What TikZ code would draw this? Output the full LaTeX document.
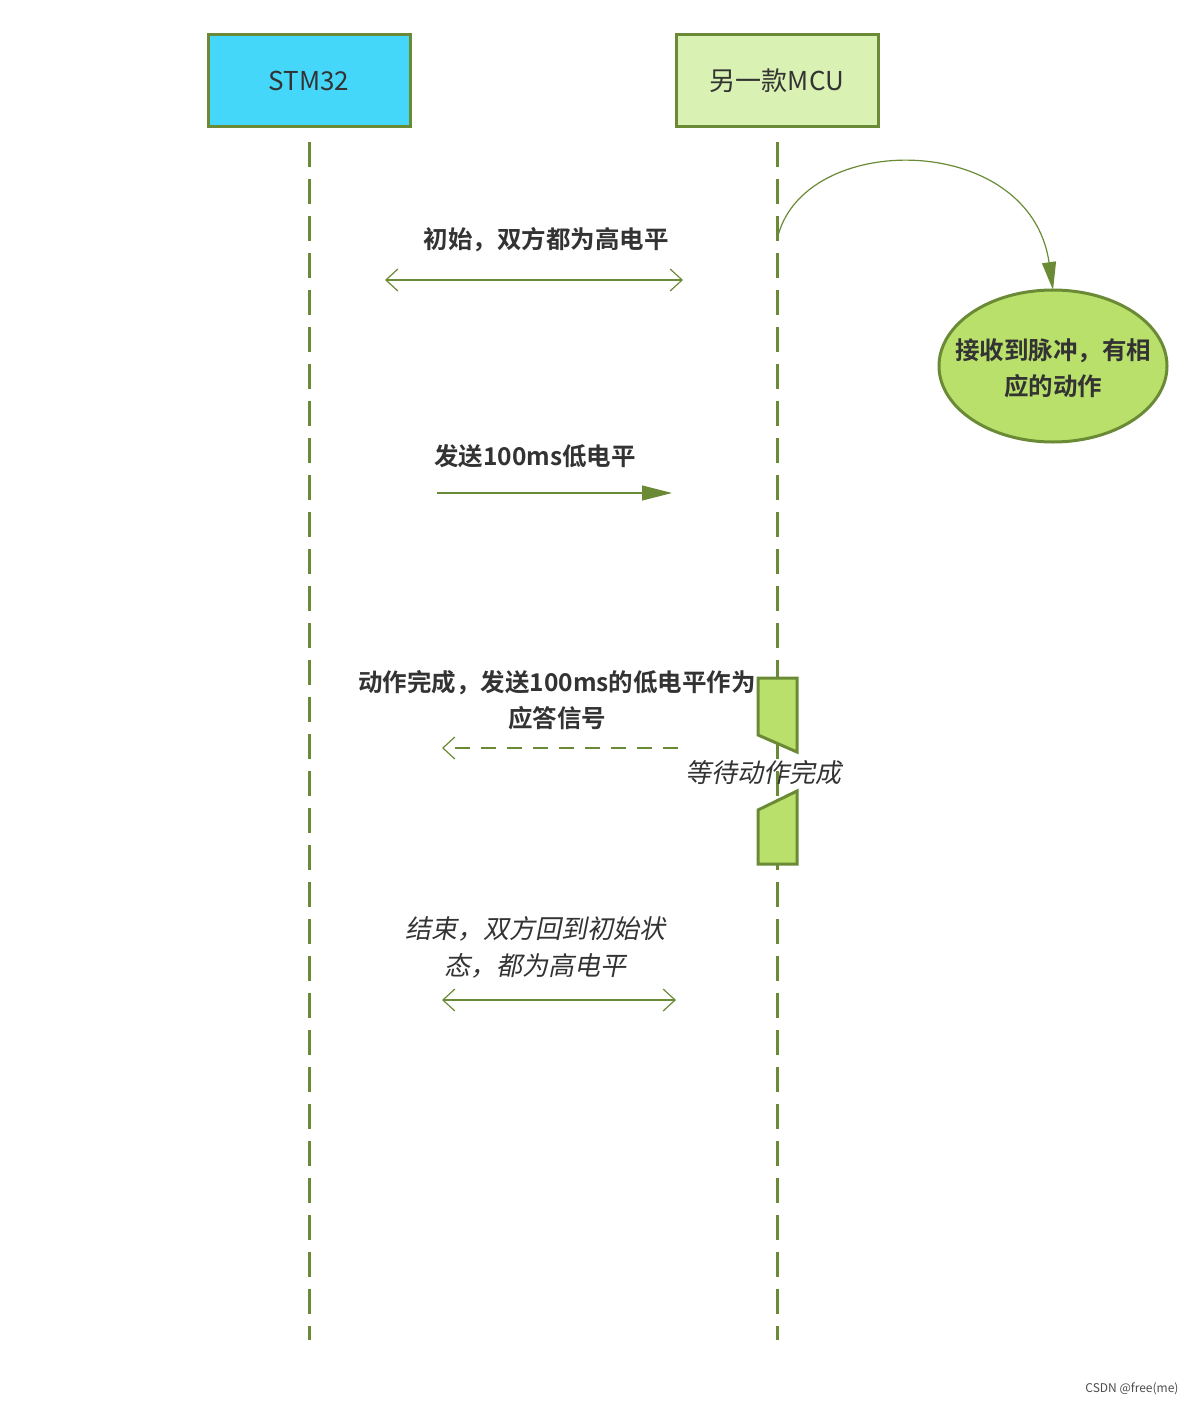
\documentclass[tikz,border=0pt]{standalone}
\usepackage{fontspec}
\setmainfont{Noto Sans CJK SC}[BoldFont={Noto Sans CJK SC Bold}]
\newfontfamily\cjkit{Noto Sans CJK SC}[FakeSlant=0.2]
\usetikzlibrary{arrows.meta,shapes.geometric}
\definecolor{lg}{HTML}{6A8A36}
\definecolor{tx}{HTML}{333333}
\definecolor{actfill}{HTML}{B9E06A}
\tikzset{
 head/.style={draw=lg,line width=3pt,minimum width=202pt,minimum height=91pt,font=\fontsize{26}{30}\selectfont,text=tx},
 life/.style={draw=lg,line width=3pt,dash pattern=on 25pt off 12pt},
 msg/.style={draw=lg,line width=1.2pt},
 lbl/.style={font=\bfseries\fontsize{24.5}{36}\selectfont,text=tx,align=center},
 ilbl/.style={font=\cjkit\fontsize{26}{37}\selectfont,text=tx,align=center},
 act/.style={draw=lg,line width=3pt,fill=actfill,line join=miter},
}
\begin{document}
\begin{tikzpicture}[x=1pt,y=-1pt]
\useasboundingbox (0,0) rectangle (1196,1405);
\node[head,fill={rgb,255:red,69;green,215;blue,250}] (s) at (309,80.5) {STM32};
\node[head,fill={rgb,255:red,217;green,242;blue,180}] (m) at (777,80.5) {另一款MCU};
\coordinate (s1) at (309,142); \coordinate (s2) at (309,1340);
\coordinate (m1) at (777,142); \coordinate (m2) at (777,1340);
\draw[life] (s1)--(s2);
\draw[life] (m1)--(m2);
% messages
\node[lbl] (t1) at (546,240) {初始，双方都为高电平};
\coordinate (a1) at (385,280); \coordinate (b1) at (683,280);
\draw[msg,{Straight Barb[length=12pt,width=22pt]}-{Straight Barb[length=12pt,width=22pt]}] (a1)--(b1);
\node[lbl] (t2) at (535,456) {发送100ms低电平};
\coordinate (a2) at (437,493); \coordinate (b2) at (672,493);
\draw[msg,-{Triangle[length=30pt,width=15pt]},lg] (a2)--(b2);
\node[lbl] (t3) at (557,700) {动作完成，发送100ms的低电平作为\\应答信号};
\coordinate (a3) at (678,748); \coordinate (b3) at (442,748);
\draw[msg,dash pattern=on 15pt off 11pt,-{Straight Barb[length=12pt,width=22pt]}] (a3)--(b3);
\node[ilbl] (t5) at (535,947) {结束，双方回到初始状\\态，都为高电平};
\coordinate (a4) at (442,1000); \coordinate (b4) at (676,1000);
\draw[msg,{Straight Barb[length=12pt,width=22pt]}-{Straight Barb[length=12pt,width=22pt]}] (a4)--(b4);
% activations
\draw[act] (758,678) -- (797,678) -- (797,752) -- (758,735) -- cycle;
\draw[act] (758,810) -- (797,791) -- (797,864) -- (758,864) -- cycle;
\node[ilbl] (t4) at (763,773) {等待动作完成};
% ellipse
\draw[draw=lg,line width=3pt,fill=actfill] (1053,366) ellipse [x radius=114pt,y radius=76pt];
\node[lbl] (e) at (1053,368) {接收到脉冲，有相\\应的动作};
\coordinate (etop) at (1053,290);
\coordinate (c0) at (777,240);
\draw[msg,-{Triangle[length=28pt,width=14pt]}] (c0) .. controls (800,130) and (1030,130) .. (etop);
\node[font=\fontsize{12}{14}\selectfont,text=black!70,anchor=east] (cs) at (1182,1389) {CSDN @free(me)};
\end{tikzpicture}
\end{document}
